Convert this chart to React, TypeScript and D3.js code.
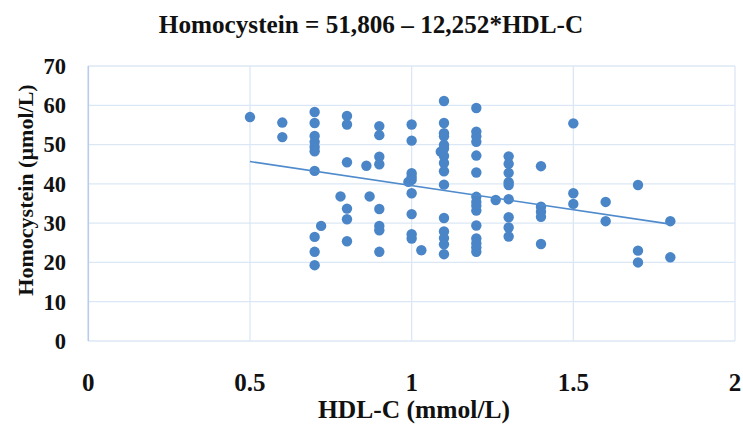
import React from "react";
import * as d3 from "d3";

const hdl: number[] = [
  0.5,
  0.6, 0.6,
  0.7, 0.7, 0.7, 0.7, 0.7, 0.7, 0.7, 0.7, 0.7, 0.7,
  0.72, 0.78,
  0.8, 0.8, 0.8, 0.8, 0.8, 0.8,
  0.86, 0.87,
  0.9, 0.9, 0.9, 0.9, 0.9, 0.9, 0.9, 0.9,
  0.99,
  1.0, 1.0, 1.0, 1.0, 1.0, 1.0, 1.0, 1.0, 1.0,
  1.03, 1.09,
  1.1, 1.1, 1.1, 1.1, 1.1, 1.1, 1.1, 1.1, 1.1, 1.1, 1.1, 1.1, 1.1, 1.1, 1.1,
  1.2, 1.2, 1.2, 1.2, 1.2, 1.2, 1.2, 1.2, 1.2, 1.2, 1.2, 1.2, 1.2, 1.2, 1.2,
  1.26,
  1.3, 1.3, 1.3, 1.3, 1.3, 1.3, 1.3, 1.3, 1.3,
  1.4, 1.4, 1.4, 1.4, 1.4,
  1.5, 1.5, 1.5,
  1.6, 1.6,
  1.7, 1.7, 1.7,
  1.8, 1.8,
];

const homocystein: number[] = [
  57,
  55.6, 51.9,
  58.3, 55.5, 52.2, 50.7, 49.4, 48.3, 43.3, 26.5, 22.7, 19.3,
  29.3, 36.8,
  57.3, 55.1, 45.5, 33.7, 31.0, 25.4,
  44.6, 36.8,
  54.7, 52.4, 46.9, 45.0, 33.6, 29.3, 28.2, 22.7,
  40.5,
  55.1, 51.0, 42.7, 41.8, 41.0, 37.6, 32.3, 27.2, 26.1,
  23.1, 48.2,
  61.1, 55.5, 52.9, 52.1, 49.9, 49.0, 47.1, 45.3, 43.2, 39.8, 31.3, 27.9, 26.2, 24.6, 22.1,
  59.3, 53.3, 52.1, 50.7, 47.2, 42.9, 36.7, 35.4, 34.4, 33.2, 29.4, 26.1, 24.9, 23.8, 22.7,
  35.9,
  47.0, 45.1, 42.8, 40.4, 39.7, 36.1, 31.5, 28.9, 26.6,
  44.5, 34.2, 32.9, 31.6, 24.7,
  55.4, 37.6, 34.9,
  35.4, 30.5,
  39.7, 23.0, 20.0,
  30.5, 21.3,
];

const xTicks: number[] = [0, 0.5, 1, 1.5, 2];
const yTicks: number[] = [0, 10, 20, 30, 40, 50, 60, 70];
const intercept = 51.806;
const slope = -12.252;
const lineRange: number[] = [0.5, 1.8];

const titleText = "Homocystein = 51,806 – 12,252*HDL-C";
const xTitle = "HDL-C (mmol/L)";
const yTitle = "Homocystein (µmol/L)";

export default function App() {
  const W = 743;
  const H = 424;
  const left = 88.3;
  const right = 735;
  const top = 66;
  const bottom = 341;
  const x = d3.scaleLinear().domain([0, 2]).range([left, right]);
  const y = d3.scaleLinear().domain([0, 70]).range([bottom, top]);
  const font = "'Liberation Serif', 'Times New Roman', serif";
  const pts = hdl.map((h, i) => [h, homocystein[i]] as [number, number]);
  const lineGen = d3
    .line<number>()
    .x((d) => x(d))
    .y((d) => y(intercept + slope * d));

  return (
    <svg
      width={W}
      height={H}
      style={{ position: "absolute", left: 0, top: 0, background: "#fff" }}
    >
      <rect x={0} y={0} width={W} height={H} fill="#fff" />
      {yTicks.map((t) => (
        <line
          key={"gy" + t}
          x1={left}
          x2={right}
          y1={y(t)}
          y2={y(t)}
          stroke="#dce7f5"
          strokeWidth={1.3}
        />
      ))}
      {xTicks.map((t) => (
        <line
          key={"gx" + t}
          x1={x(t)}
          x2={x(t)}
          y1={top}
          y2={bottom}
          stroke={t === 0 ? "#b7cde9" : "#dce7f5"}
          strokeWidth={t === 0 ? 1.6 : 1.3}
        />
      ))}
      {yTicks.map((t) => (
        <text
          key={"ty" + t}
          x={66}
          y={y(t)}
          dy="0.35em"
          textAnchor="end"
          fontFamily={font}
          fontWeight="bold"
          fontSize={22.5}
          fill="#111"
        >
          {t}
        </text>
      ))}
      {xTicks.map((t) => (
        <text
          key={"tx" + t}
          x={x(t)}
          y={391}
          textAnchor="middle"
          fontFamily={font}
          fontWeight="bold"
          fontSize={25}
          fill="#111"
        >
          {t}
        </text>
      ))}
      {pts.map((p, i) => (
        <circle
          key={"p" + i}
          cx={x(p[0])}
          cy={y(p[1])}
          r={5.2}
          fill="#4a85c7"
        />
      ))}
      <path
        d={lineGen(lineRange) || ""}
        fill="none"
        stroke="#4f8bcc"
        strokeWidth={1.6}
      />
      <text
        x={371}
        y={33}
        textAnchor="middle"
        fontFamily={font}
        fontWeight="bold"
        fontSize={25.2}
        fill="#111"
      >
        {titleText}
      </text>
      <text
        x={414}
        y={418}
        textAnchor="middle"
        fontFamily={font}
        fontWeight="bold"
        fontSize={25.5}
        fill="#111"
      >
        {xTitle}
      </text>
      <text
        transform={`translate(33, 190) rotate(-90)`}
        textAnchor="middle"
        fontFamily={font}
        fontWeight="bold"
        fontSize={22}
        fill="#111"
      >
        {yTitle}
      </text>
    </svg>
  );
}
